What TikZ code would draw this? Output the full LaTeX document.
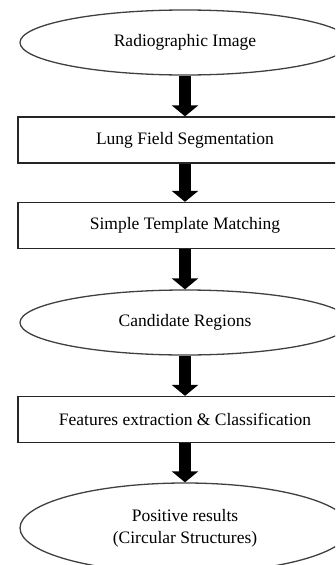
\documentclass[tikz,border=0pt]{standalone}
\usepackage{fontspec}
\setmainfont{Liberation Serif}
\usetikzlibrary{shapes.geometric,arrows.meta}
\begin{document}
\begin{tikzpicture}[x=1pt,y=1pt,
  oval/.style={ellipse, draw=black!75, line width=1.3pt, minimum width=330pt, minimum height=65pt, inner sep=0pt, font=\fontsize{17.5}{22}\selectfont, align=center},
  stepbox/.style={rectangle, draw=black!85, line width=1.3pt, minimum width=334pt, minimum height=46pt, inner sep=0pt, font=\fontsize{17.5}{22}\selectfont},
  blockarrow/.style={line width=12pt, black, -{Triangle[width=26pt,length=11pt]}}
]
\useasboundingbox (0,0) rectangle (335,-565);
\clip (0,0) rectangle (335,-565);
\node[oval] (e1) at (185,-42.5) {Radiographic Image};
\node[stepbox] (r1) at (185,-140) {Lung Field Segmentation};
\node[stepbox] (r2) at (185,-225.5) {Simple Template Matching};
\node[oval] (e2) at (185,-322.5) {Candidate Regions};
\node[stepbox] (r3) at (185,-419.5) {Features extraction \& Classification};
\node[oval, minimum height=90pt] (e3) at (185,-528) {Positive results\\(Circular Structures)};
\draw[blockarrow] (e1) -- (r1);
\draw[blockarrow] (r1) -- (r2);
\draw[blockarrow] (r2) -- (e2);
\draw[blockarrow] (e2) -- (r3);
\draw[blockarrow] (r3) -- (e3);
\end{tikzpicture}
\end{document}
